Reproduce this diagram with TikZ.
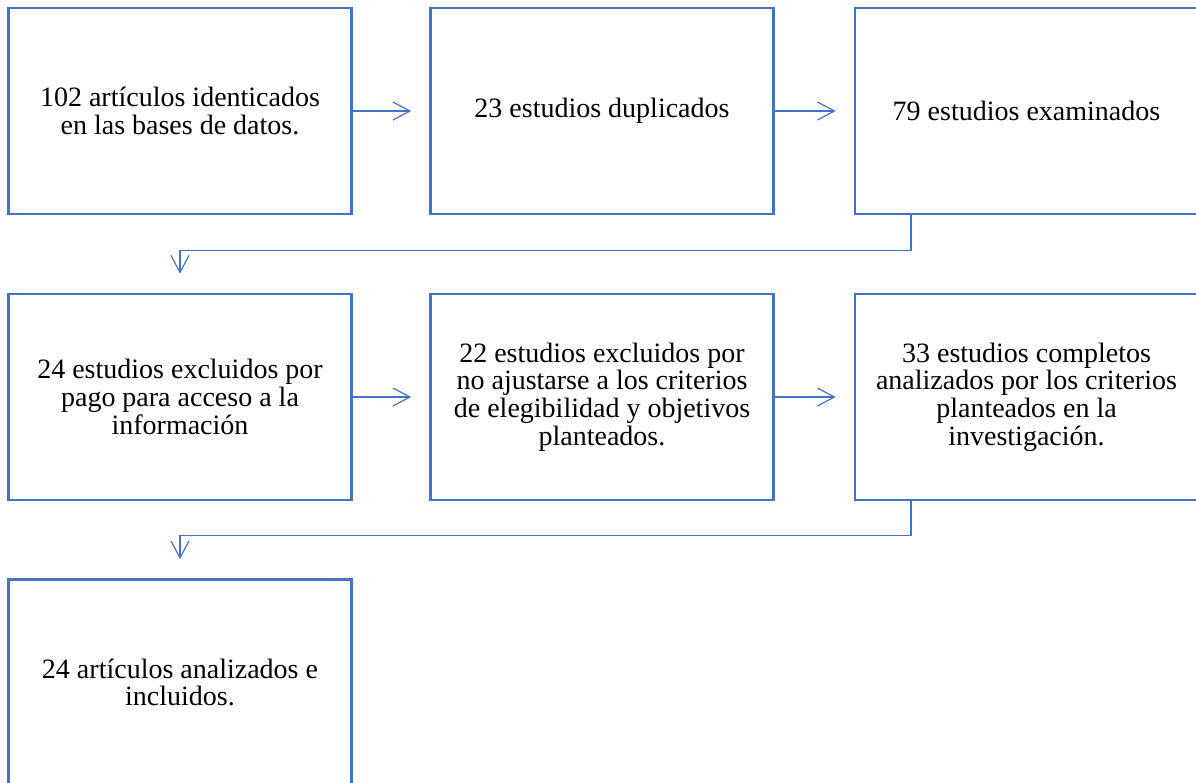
\documentclass[tikz,border=0pt]{standalone}
\usepackage{fontspec}
\setmainfont{Liberation Serif}
\usetikzlibrary{arrows.meta}
\usetikzlibrary{positioning}
\definecolor{azul}{HTML}{4472C4}

\begin{document}
\begin{tikzpicture}[x=0.5pt, y=-0.5pt,
    caja/.style={draw=azul, line width=1.3pt, minimum width=171.5pt, minimum height=103pt,
      inner sep=0pt, align=center, font=\fontsize{14pt}{13.8pt}\selectfont},
    flecha/.style={azul, line width=0.6pt, -{Straight Barb[length=8.5pt,width=9pt]}}]
      \clip (0, 0) rectangle (1196, 783);

      \node[caja] (art) at (180, 111) {102 artículos identicados\\en las bases de datos.};
      \node[caja] (dup) at (602, 111) {23 estudios duplicados};
      \node[caja] (exa) at (1026.5, 111) {79 estudios examinados};

      \node[caja] (pago) at (180, 397) {24 estudios excluidos por\\pago para acceso a la\\información};
      \node[caja] (eleg) at (602, 397) {22 estudios excluidos por\\no ajustarse a los criterios\\de elegibilidad y objetivos\\planteados.};
      \node[caja] (comp) at (1026.5, 397) {33 estudios completos\\analizados por los criterios\\planteados en la\\investigación.};

      \node[caja] (incl) at (180, 682.5) {24 artículos analizados e\\incluidos.};

      \draw[flecha, shorten >=9pt] (art) -- (dup);
      \draw[flecha, shorten >=9pt] (dup) -- (exa);
      \draw[flecha, shorten >=9pt] (pago) -- (eleg);
      \draw[flecha, shorten >=9pt] (eleg) -- (comp);

      % codos entre filas
      \draw[flecha, shorten >=9.5pt] ([xshift=-57.75pt]exa.south) -- ++(0, 35) -| (pago);
      \draw[flecha, shorten >=9.5pt] ([xshift=-57.75pt]comp.south) -- ++(0, 34) -| (incl);
    \end{tikzpicture}
\end{document}
